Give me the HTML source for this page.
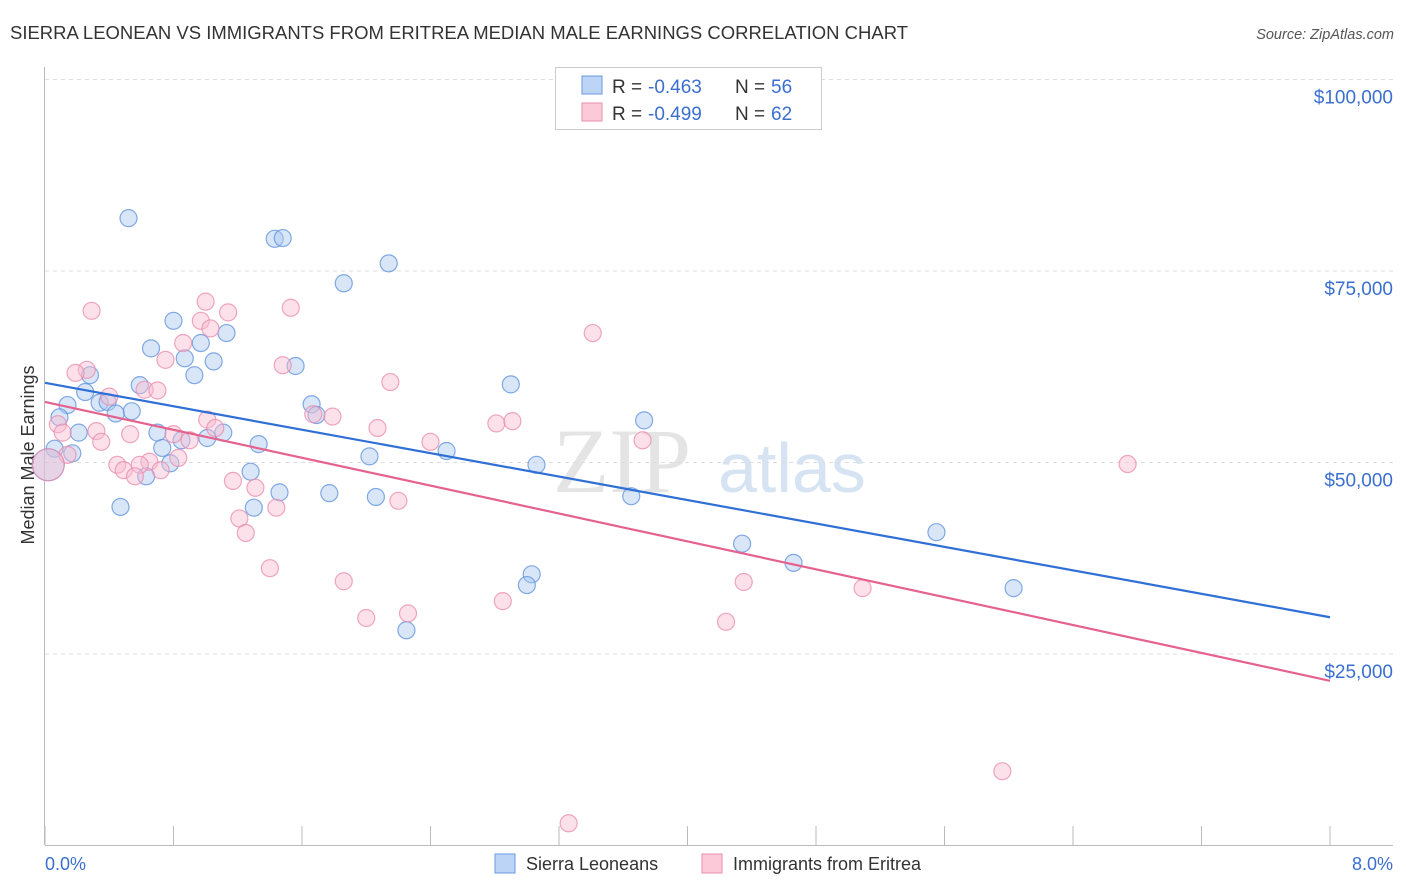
<!DOCTYPE html>
<html><head><meta charset="utf-8"><style>
body{margin:0;background:#fff;font-family:"Liberation Sans",sans-serif;}
svg{display:block}
</style></head><body>
<svg id="c" width="1406" height="892">
<text x="10" y="39" font-size="18" fill="#333" textLength="898" lengthAdjust="spacingAndGlyphs">SIERRA LEONEAN VS IMMIGRANTS FROM ERITREA MEDIAN MALE EARNINGS CORRELATION CHART</text>
<text x="1394" y="39" font-size="14.5" fill="#555" font-style="italic" text-anchor="end">Source: ZipAtlas.com</text>
<text x="34" y="455" font-size="18" fill="#333" text-anchor="middle" transform="rotate(-90 34 455)">Median Male Earnings</text>
<g><text x="553" y="492" font-size="92" fill="#e4e4e4" font-family="Liberation Serif,serif">ZIP</text><text x="718" y="492" font-size="70" fill="#d6e3f3">atlas</text></g>
<g id="grid"></g><g id="marks"></g><g id="lines"></g>
<g>
<rect x="555.500" y="67.500" width="266" height="62" fill="#fff" stroke="#ccc"/>
<rect x="582" y="76" width="20" height="18" fill="#bcd4f5" stroke="#6a9ae0"/>
<rect x="582" y="103" width="20" height="18" fill="#fbc9d8" stroke="#e891ad"/>
<text x="612" y="93" font-size="19" fill="#333">R =</text><text x="648" y="93" font-size="19" fill="#3a6fd0">-0.463</text>
<text x="735" y="93" font-size="19" fill="#333">N =</text><text x="771" y="93" font-size="19" fill="#3a6fd0">56</text>
<text x="612" y="120" font-size="19" fill="#333">R =</text><text x="648" y="120" font-size="19" fill="#3a6fd0">-0.499</text>
<text x="735" y="120" font-size="19" fill="#333">N =</text><text x="771" y="120" font-size="19" fill="#3a6fd0">62</text>
</g>
<g>
<rect x="495" y="854" width="20" height="19" fill="#bcd4f5" stroke="#6a9ae0"/>
<text x="526" y="870" font-size="18" fill="#333">Sierra Leoneans</text>
<rect x="702" y="854" width="20" height="19" fill="#fbc9d8" stroke="#e891ad"/>
<text x="733" y="870" font-size="18" fill="#333">Immigrants from Eritrea</text>
</g>
</svg>
<script>
const xTicks=[0,0.8,1.6,2.4,3.2,4.0,4.8,5.6,6.4,7.2,8.0];
const yTicks=[25,50,75,100];
const yTickLabels=["$25,000","$50,000","$75,000","$100,000"];
const blueX=[0.52,1.43,1.48,2.14,1.86,0.80,1.13,0.66,0.97,0.87,1.05,1.56,0.93,0.28,0.59,2.90,0.25,0.14,0.34,0.39,0.54,0.44,1.66,1.69,0.09,3.73,0.70,0.21,1.11,1.01,0.85,1.33,0.73,0.06,0.17,2.50,2.02,0.78,3.06,1.28,0.63,1.46,1.77,2.06,3.65,1.30,0.47,5.55,4.34,4.66,3.03,3.00,6.03,2.25,0.02];
const blueY=[81.9,79.2,79.3,76.0,73.4,68.5,66.9,64.9,65.6,63.6,63.2,62.6,61.4,61.4,60.1,60.2,59.2,57.5,57.8,57.9,56.7,56.4,57.6,56.2,55.9,55.5,53.9,53.9,53.9,53.2,52.9,52.4,51.9,51.8,51.2,51.5,50.8,49.9,49.7,48.8,48.2,46.1,46.0,45.5,45.6,44.1,44.2,40.9,39.4,36.9,35.4,34.0,33.6,28.1,49.7];
const pinkX=[0.29,1.00,1.53,1.14,0.97,1.03,3.41,0.86,0.75,1.48,0.26,0.19,2.15,0.62,0.70,0.40,1.01,1.67,1.79,2.81,2.91,0.08,1.06,2.07,0.11,0.32,0.53,0.80,0.90,0.35,3.72,2.40,0.14,0.83,0.65,0.45,0.59,6.74,0.49,0.72,0.56,1.17,1.31,2.20,1.44,1.21,1.25,1.40,1.86,4.35,5.09,2.85,2.26,2.00,4.24,5.96,3.26,0.02];
const pinkY=[69.8,71.0,70.2,69.6,68.5,67.5,66.9,65.6,63.4,62.7,62.1,61.7,60.5,59.5,59.4,58.6,55.6,56.3,56.0,55.1,55.4,55.0,54.5,54.5,53.9,54.1,53.7,53.7,52.9,52.7,52.9,52.7,51.0,50.6,50.1,49.7,49.7,49.8,49.0,49.0,48.2,47.6,46.7,45.0,44.1,42.7,40.8,36.2,34.5,34.4,33.6,31.9,30.3,29.7,29.2,9.7,2.9,49.7];
const blueTrend=[60.4,29.8];
const pinkTrend=[57.9,21.5];
const X=v=>45+v/8*1285, Y=v=>845.5-v/25*191.5;
const NS="http://www.w3.org/2000/svg";
function mk(t,a,p){const e=document.createElementNS(NS,t);for(const k in a)e.setAttribute(k,a[k]);p.appendChild(e);return e;}
const g=document.getElementById('grid');
yTicks.forEach((v,i)=>{
 const l=mk('line',{x1:45,x2:1393,y1:Y(v),y2:Y(v),stroke:'#ddd','stroke-dasharray':'4,4'},g);
 
 
 const t=mk('text',{x:1393,y:Y(v)+24,'font-size':19,fill:'#3a6fd0','text-anchor':'end'},g);
 t.textContent=yTickLabels[i];
 
 
});
const ax=mk('line',{x1:44.5,x2:44.5,y1:67,y2:845,stroke:'#bbb'},g);


const bx=mk('line',{x1:45,x2:1393,y1:845.5,y2:845.5,stroke:'#bbb'},g);


xTicks.forEach(v=>{
 const t=mk('line',{x1:X(v),x2:X(v),y1:826,y2:845,stroke:'#bbb'},g);
 
 
});
const x0=mk('text',{x:45,y:870,'font-size':18,fill:'#3a6fd0'},g);x0.textContent=xTicks[0].toFixed(1)+'%';


const x1=mk('text',{x:1393,y:870,'font-size':18,fill:'#3a6fd0','text-anchor':'end'},g);x1.textContent=xTicks[10].toFixed(1)+'%';


const m=document.getElementById('marks');
function pts(xs,ys,fill,stroke,name){xs.forEach((v,i)=>{
 const big=(v<0.05);
 const c=mk('circle',{cx:X(v),cy:Y(ys[i]),r:big?16:8.5,fill:fill,'fill-opacity':0.45,stroke:stroke,'stroke-opacity':0.75,'stroke-width':1.2},m);
 
 
});}
pts(blueX,blueY,'#a9c8f0','#5b8fdc','sierra-leonean-point');
pts(pinkX,pinkY,'#f8bcd0','#e98aab','eritrea-point');
const L=document.getElementById('lines');
const b=mk('line',{x1:X(0),y1:Y(blueTrend[0]),x2:X(8),y2:Y(blueTrend[1]),stroke:'#2f6fd6','stroke-width':2.2},L);


const p=mk('line',{x1:X(0),y1:Y(pinkTrend[0]),x2:X(8),y2:Y(pinkTrend[1]),stroke:'#e5628f','stroke-width':2.2},L);


</script>
</body></html>
